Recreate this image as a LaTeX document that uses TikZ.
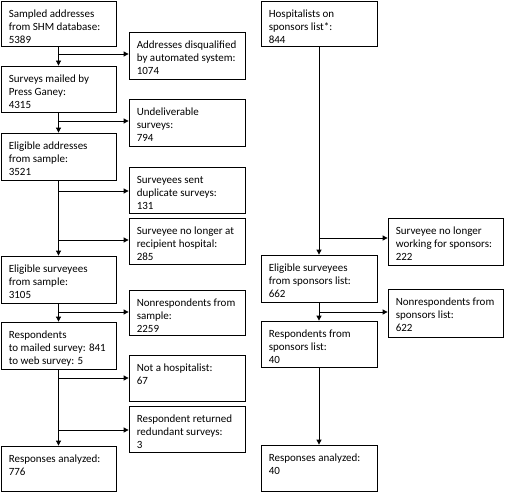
\documentclass[tikz,border=0pt]{standalone}
\usepackage{fontspec}
\setmainfont{Carlito}
\usetikzlibrary{arrows.meta}
\tikzset{
  boxst/.style={draw, line width=0.8pt, inner sep=0pt},
  txt/.style={align=left, inner sep=0pt, anchor=north west, font=\fontsize{11}{13.3}\selectfont},
  flow/.style={line width=0.8pt, -{Triangle[length=5pt,width=5pt]}},
  plain/.style={line width=0.8pt}
}
\newcommand\flowbox[6]{%
  \node[boxst, minimum width={#4-#2}, minimum height={#5-#3}] (#1) at ({(#2+#4)/2},{(#3+#5)/2}) {};
  \node[txt] (#1-t) at ([xshift=8pt,yshift=-7.2pt]#1.north west) {\strut #6};
}
\begin{document}
\begin{tikzpicture}[x=1pt,y=-1pt]
\useasboundingbox (0,0) rectangle (505,492);
% left main column
\flowbox{L1}{1}{1}{116}{46}{Sampled addresses\\from SHM database:\\5389}
\flowbox{L2}{1}{66}{116}{112}{Surveys mailed by\\Press Ganey:\\4315}
\flowbox{L3}{1}{133}{116}{180}{Eligible addresses\\from sample:\\3521}
\flowbox{L4}{1}{256}{116}{303}{Eligible surveyees\\from sample:\\3105}
\flowbox{L5}{1}{322}{116}{369}{Respondents\\to mailed survey: 841\\to web survey: 5}
\flowbox{L6}{1}{446}{116}{491}{Responses analyzed:\\776}
% left side boxes
\flowbox{S1}{129}{32}{245}{79}{Addresses disqualified\\by automated system:\\1074}
\flowbox{S2}{129}{99}{245}{146}{Undeliverable\\surveys:\\794}
\flowbox{S3}{129}{167}{245}{213}{Surveyees sent\\duplicate surveys:\\131}
\flowbox{S4}{129}{218}{245}{264}{Surveyee no longer at\\recipient hospital:\\285}
\flowbox{S5}{129}{290}{245}{335}{Nonrespondents from\\sample:\\2259}
\flowbox{S6}{129}{355}{245}{401}{Not a hospitalist:\\67}
\flowbox{S7}{129}{406}{245}{452}{Respondent returned\\redundant surveys:\\3}
% right column
\flowbox{R1}{261}{1}{377}{46}{Hospitalists on\\sponsors list*:\\844}
\flowbox{R2}{261}{255}{377}{302}{Eligible surveyees\\from sponsors list:\\662}
\flowbox{R3}{261}{321}{377}{367}{Respondents from\\sponsors list:\\40}
\flowbox{R4}{261}{445}{377}{491}{Responses analyzed:\\40}
\flowbox{RS1}{388}{218}{503}{265}{Surveyee no longer\\working for sponsors:\\222}
\flowbox{RS2}{388}{289}{503}{337}{Nonrespondents from\\sponsors list:\\622}
% branch points
\coordinate (b1) at (L1.south |- 0,54);
\coordinate (b2) at (L2.south |- 0,121);
\coordinate (b3) at (L3.south |- 0,191);
\coordinate (b4) at (L3.south |- 0,240);
\coordinate (b5) at (L4.south |- 0,312);
\coordinate (b6) at (L5.south |- 0,378);
\coordinate (b7) at (L5.south |- 0,430);
\coordinate (c1) at (R1.south |- 0,238);
\coordinate (c2) at (R2.south |- 0,312);
% main flows
\draw[flow] (L1.south) -- (L2.north);
\draw[flow] (L2.south) -- (L3.north);
\draw[flow] (L3.south) -- (L4.north);
\draw[flow] (L4.south) -- (L5.north);
\draw[flow] (L5.south) -- (L6.north);
\draw[flow] (R1.south) -- (R2.north);
\draw[flow] (R2.south) -- (R3.north);
\draw[flow] (R3.south) -- (R4.north);
% branches
\draw[flow] (b1) -- (S1.west |- b1);
\draw[flow] (b2) -- (S2.west |- b2);
\draw[flow] (b3) -- (S3.west |- b3);
\draw[flow] (b4) -- (S4.west |- b4);
\draw[flow] (b5) -- (S5.west |- b5);
\draw[flow] (b6) -- (S6.west |- b6);
\draw[flow] (b7) -- (S7.west |- b7);
\draw[flow] (c1) -- (RS1.west |- c1);
\draw[flow] (c2) -- (RS2.west |- c2);
\end{tikzpicture}
\end{document}
